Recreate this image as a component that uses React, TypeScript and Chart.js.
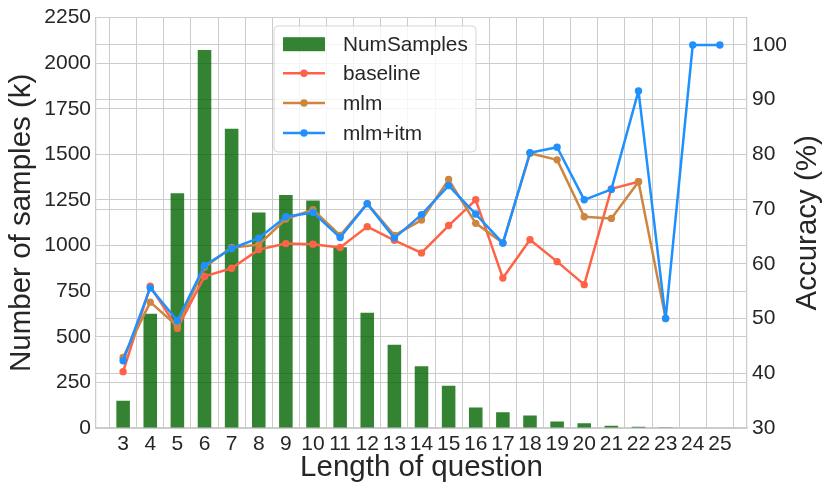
import React, { useEffect, useRef } from "react";
import { Chart, registerables } from "chart.js";

Chart.register(...registerables);

const lengths = [3, 4, 5, 6, 7, 8, 9, 10, 11, 12, 13, 14, 15, 16, 17, 18, 19, 20, 21, 22, 23, 24, 25];
const numSamples = [150, 627, 1287, 2072, 1640, 1181, 1278, 1247, 991, 632, 457, 339, 231, 113, 87, 69, 36, 26, 13, 7, 2, 0, 0];
const baseline = [40.3, 55.9, 48.2, 57.7, 59.2, 62.6, 63.7, 63.6, 63.0, 66.8, 64.3, 62.0, 67.0, 71.7, 57.4, 64.4, 60.4, 56.2, 73.7, 75.0, null, null, null];
const mlm = [42.9, 53.0, 48.6, 59.4, 63.0, 63.5, 68.2, 69.9, 65.2, 71.0, 65.2, 68.0, 75.4, 67.4, 63.8, 80.2, 79.0, 68.6, 68.3, 75.0, 50.0, null, null];
const mlmItm = [42.3, 55.6, 49.6, 59.7, 62.8, 64.7, 68.6, 69.4, 64.8, 71.0, 64.7, 69.0, 74.3, 69.1, 63.8, 80.3, 81.3, 71.7, 73.6, 91.6, 50.0, 100, 100];
const accTicks = [30, 40, 50, 60, 70, 80, 90, 100];

const FONT = "'Liberation Sans', Arial, sans-serif";
const TEXT = "#262626";
const GRID = "#cccccc";
const BAR = "rgba(0,100,0,0.8)";
const C_BASE = "#ff6347";
const C_MLM = "#cd853f";
const C_ITM = "#1e90ff";

const legendItems = [
  { label: "NumSamples", type: "bar", color: BAR },
  { label: "baseline", type: "line", color: C_BASE },
  { label: "mlm", type: "line", color: C_MLM },
  { label: "mlm+itm", type: "line", color: C_ITM },
];

const overlayPlugin = {
  id: "overlay",
  afterDraw(chart: any) {
    const ctx = chart.ctx;
    const area = chart.chartArea;
    ctx.save();
    ctx.fillStyle = TEXT;
    ctx.font = `29.5px ${FONT}`;
    ctx.textAlign = "center";
    ctx.textBaseline = "middle";
    const midY = (area.top + area.bottom) / 2;
    ctx.save();
    ctx.translate(22, midY);
    ctx.rotate(-Math.PI / 2);
    ctx.fillText("Number of samples (k)", 0, 0);
    ctx.restore();
    ctx.save();
    ctx.translate(808, midY);
    ctx.rotate(-Math.PI / 2);
    ctx.fillText("Accuracy (%)", 0, 0);
    ctx.restore();
    ctx.fillText("Length of question", (area.left + area.right) / 2, 468);

    // legend
    const bx = 274, by = 26, bw = 202, bh = 126, r = 4;
    ctx.beginPath();
    ctx.moveTo(bx + r, by);
    ctx.lineTo(bx + bw - r, by);
    ctx.quadraticCurveTo(bx + bw, by, bx + bw, by + r);
    ctx.lineTo(bx + bw, by + bh - r);
    ctx.quadraticCurveTo(bx + bw, by + bh, bx + bw - r, by + bh);
    ctx.lineTo(bx + r, by + bh);
    ctx.quadraticCurveTo(bx, by + bh, bx, by + bh - r);
    ctx.lineTo(bx, by + r);
    ctx.quadraticCurveTo(bx, by, bx + r, by);
    ctx.closePath();
    ctx.fillStyle = "rgba(255,255,255,0.8)";
    ctx.fill();
    ctx.strokeStyle = "rgba(204,204,204,0.8)";
    ctx.lineWidth = 1;
    ctx.stroke();

    const rowsY = [44.2, 73.3, 103, 133];
    legendItems.forEach((it, i) => {
      const y = rowsY[i];
      if (it.type === "bar") {
        ctx.fillStyle = it.color;
        ctx.fillRect(283, y - 7, 42, 14);
      } else {
        ctx.strokeStyle = it.color;
        ctx.lineWidth = 2.5;
        ctx.beginPath();
        ctx.moveTo(283, y);
        ctx.lineTo(325, y);
        ctx.stroke();
        ctx.fillStyle = it.color;
        ctx.beginPath();
        ctx.arc(304, y, 3.7, 0, Math.PI * 2);
        ctx.fill();
      }
      ctx.fillStyle = TEXT;
      ctx.font = `20.8px ${FONT}`;
      ctx.textAlign = "left";
      ctx.textBaseline = "middle";
      ctx.fillText(it.label, 343, y + 1);
    });
    ctx.restore();
  },
};

function lineDataset(label: string, values: (number | null)[], color: string, order: number) {
  return {
    type: "line" as const,
    label,
    data: lengths.map((x, i) => ({ x, y: values[i] })),
    yAxisID: "y1",
    borderColor: color,
    backgroundColor: color,
    borderWidth: 2.5,
    borderJoinStyle: "round" as const,
    borderCapStyle: "round" as const,
    pointRadius: 3.7,
    pointBorderWidth: 0,
    pointBackgroundColor: color,
    tension: 0,
    spanGaps: false,
    order,
  };
}

export default function App() {
  const ref = useRef<HTMLCanvasElement | null>(null);
  useEffect(() => {
    if (!ref.current) return;
    const chart = new Chart(ref.current, {
      type: "bar",
      data: {
        datasets: [
          {
            type: "bar",
            label: "NumSamples",
            data: lengths.map((x, i) => ({ x, y: numSamples[i] })),
            yAxisID: "y",
            backgroundColor: BAR,
            borderWidth: 0,
            categoryPercentage: 1,
            barPercentage: 0.5,
            order: 4,
          } as any,
          lineDataset("baseline", baseline, C_BASE, 3),
          lineDataset("mlm", mlm, C_MLM, 2),
          lineDataset("mlm+itm", mlmItm, C_ITM, 1),
        ],
      },
      options: {
        responsive: false,
        animation: false,
        layout: { padding: { top: 16, left: 0, right: 0, bottom: 0 } },
        plugins: { legend: { display: false }, tooltip: { enabled: false } },
        scales: {
          x: {
            type: "linear",
            min: 2,
            max: 26,
            offset: false,
            afterFit: (s: any) => { s.height = 67; },
            grid: { color: GRID, lineWidth: 1, drawTicks: false },
            border: { color: GRID, width: 1.25 },
            ticks: {
              stepSize: 1,
              autoSkip: false,
              maxRotation: 0,
              padding: 4,
              color: TEXT,
              font: { family: FONT, size: 21 },
              callback: (v: any) => (v < 3 || v > 25 ? "" : String(v)),
            },
          },
          y: {
            type: "linear",
            position: "left",
            min: 0,
            max: 2250,
            afterFit: (s: any) => { s.width = 96; },
            grid: { color: GRID, lineWidth: 1, drawTicks: false },
            border: { color: GRID, width: 1.25 },
            ticks: {
              stepSize: 250,
              padding: 5,
              color: TEXT,
              font: { family: FONT, size: 21 },
              callback: (v: any) => String(v),
            },
          },
          y1: {
            type: "linear",
            position: "right",
            min: 30,
            max: 105,
            afterFit: (s: any) => { s.width = 83; },
            afterBuildTicks: (s: any) => { s.ticks = accTicks.map((value) => ({ value })); },
            grid: { color: GRID, lineWidth: 1, drawTicks: false },
            border: { color: GRID, width: 1.25 },
            ticks: { padding: 5, color: TEXT, font: { family: FONT, size: 21 }, callback: (v: any) => String(v) },
          },
        },
      } as any,
      plugins: [overlayPlugin],
    });
    return () => chart.destroy();
  }, []);
  return (
    <div style={{ position: "absolute", left: 0, top: 0, width: 830, height: 495, background: "#fff" }}>
      <canvas ref={ref} width={830} height={495} style={{ width: 830, height: 495, display: "block" }} />
    </div>
  );
}
